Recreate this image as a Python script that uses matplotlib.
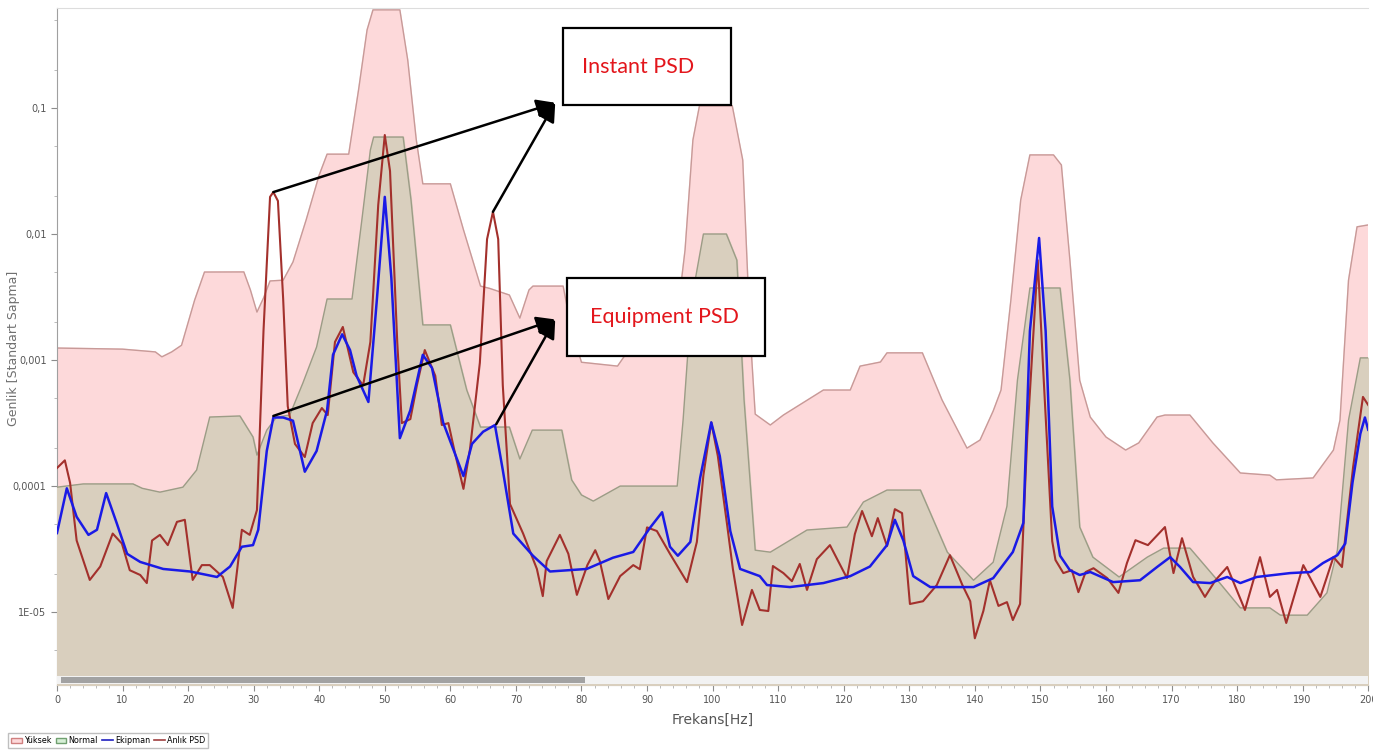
import matplotlib
matplotlib.use("Agg")
import matplotlib.pyplot as plt
from matplotlib.patches import Rectangle, Patch
from matplotlib.lines import Line2D
from matplotlib.ticker import FixedLocator, FixedFormatter, LogLocator, NullFormatter, MultipleLocator

# Yuksek (upper limit band)
yuksek_f = [0, 10, 15, 16, 17.5, 19, 21, 22.5, 28.5, 29.5, 30.5, 31.5, 32.5, 34.5, 36, 38, 40, 41.2,
            44.5, 46, 47.3, 48.2, 52.3, 53.5, 54.8, 55.8, 60, 62, 64.6, 66, 69, 70.6, 72, 72.6, 77.2,
            78.5, 80, 85.5, 87, 94, 95.8, 97, 98, 103, 104.6, 105.7, 106.5, 108.8, 110.8, 116.9, 121,
            122.5, 125.6, 126.6, 132, 135, 138.8, 140.8, 142.8, 144, 145.5, 147, 148.4, 152, 153.2,
            154.5, 156, 157.6, 160, 163, 165, 167.8, 169, 172.8, 176.3, 180.5, 185, 186, 191.6, 194.7,
            195.7, 197, 198.3, 200]
yuksek_v = [1.245e-3, 1.22e-3, 1.16e-3, 1.06e-3, 1.16e-3, 1.31e-3, 2.99e-3, 4.99e-3, 5.0e-3, 3.6e-3,
            2.4e-3, 3.1e-3, 4.24e-3, 4.3e-3, 6.0e-3, 1.29e-2, 2.94e-2, 4.3e-2, 4.3e-2, 0.139, 0.416,
            0.6, 0.6, 0.24, 5.6e-2, 2.5e-2, 2.5e-2, 1.08e-2, 3.86e-3, 3.7e-3, 3.28e-3, 2.15e-3, 3.6e-3,
            3.86e-3, 3.86e-3, 1.73e-3, 9.6e-4, 8.95e-4, 1.16e-3, 1.2e-3, 7.46e-3, 5.57e-2, 0.104, 0.104,
            3.86e-2, 1.73e-3, 3.72e-4, 3.05e-4, 3.66e-4, 5.78e-4, 5.78e-4, 8.95e-4, 9.64e-4, 1.14e-3,
            1.14e-3, 4.82e-4, 2.0e-4, 2.32e-4, 3.94e-4, 5.78e-4, 2.99e-3, 1.86e-2, 4.24e-2, 4.24e-2,
            3.53e-2, 6.2e-3, 6.9e-4, 3.53e-4, 2.45e-4, 1.93e-4, 2.2e-4, 3.53e-4, 3.66e-4, 3.66e-4,
            2.2e-4, 1.27e-4, 1.22e-4, 1.12e-4, 1.16e-4, 1.93e-4, 3.34e-4, 4.3e-3, 1.14e-2, 1.18e-2]

# Normal band
normal_f = [0, 4, 11.6, 13, 15.7, 19.2, 21.3, 23.3, 27.9, 29.9, 30.5, 32, 33.5, 35.5, 37.5, 39.6, 41.2,
            45, 46.5, 47.8, 48.3, 52.8, 54, 55.8, 60, 62.5, 64.6, 69, 70.6, 72.5, 77, 78.5, 80, 81.8,
            85.9, 94.6, 95.5, 96.8, 98.6, 102.1, 103.7, 104.8, 106.5, 108.8, 114.4, 120.5, 123, 126.6,
            131.7, 135.8, 139.8, 142.8, 144.9, 146.5, 148.4, 153, 154.5, 156, 158, 162, 166.3, 168.8,
            172.8, 177, 180.5, 185, 186.6, 190.7, 193.7, 195.3, 197, 198.8, 200]
normal_v = [9.8e-5, 1.04e-4, 1.04e-4, 9.6e-5, 8.95e-5, 9.8e-5, 1.34e-4, 3.53e-4, 3.6e-4, 2.45e-4, 1.76e-4,
            2.78e-4, 3.53e-4, 3.66e-4, 6.56e-4, 1.27e-3, 3.05e-3, 3.05e-3, 1.29e-2, 4.64e-2, 5.88e-2,
            5.88e-2, 1.86e-2, 1.9e-3, 1.9e-3, 5.78e-4, 2.94e-4, 2.94e-4, 1.64e-4, 2.78e-4, 2.78e-4,
            1.12e-4, 8.5e-5, 7.6e-5, 1.0e-4, 1.0e-4, 3.34e-4, 3.0e-3, 1.0e-2, 1.0e-2, 6.2e-3, 4.82e-4,
            3.1e-5, 2.99e-5, 4.48e-5, 4.73e-5, 7.47e-5, 9.3e-5, 9.3e-5, 2.99e-5, 1.79e-5, 2.49e-5,
            6.93e-5, 6.93e-4, 3.73e-3, 3.73e-3, 6.93e-4, 4.73e-5, 2.73e-5, 1.9e-5, 2.73e-5, 3.22e-5,
            3.22e-5, 1.79e-5, 1.08e-5, 1.08e-5, 9.46e-6, 9.46e-6, 1.42e-5, 3.1e-5, 3.34e-4, 1.04e-3, 1.04e-3]

# Ekipman (equipment PSD)
ekipman_f = [0, 1.5, 3, 4.8, 6.1, 7.5, 9.1, 10.7, 12.7, 16.2, 20.3, 24.4, 26.4, 28.2, 29.9, 30.7, 32, 33,
             34.5, 36, 37.8, 39.6, 41.2, 42.1, 43.5, 44.7, 45.7, 47.5, 48.8, 50, 51, 52.3, 53.9, 55.8,
             57.2, 58.9, 62, 63.3, 65, 66.8, 68, 69.6, 72.6, 75.2, 80.8, 84.8, 87.9, 90.5, 92.3, 93.5,
             94.7, 96.6, 98.1, 99.8, 101.1, 102.7, 104.2, 107.2, 108.3, 111.8, 116.9, 121, 124, 126.6,
             127.8, 129.1, 130.6, 133.2, 139.8, 142.8, 145.8, 147.4, 148.4, 149.8, 150.8, 151.8, 153,
             154.5, 156, 157.6, 161.1, 165.2, 167.8, 169.8, 171.3, 173.3, 175.9, 178.5, 180.5, 183,
             188.1, 191.2, 193.1, 195.3, 196.5, 197.6, 198.8, 199.5, 200]
ekipman_v = [4.24e-5, 9.6e-5, 5.7e-5, 4.1e-5, 4.5e-5, 8.8e-5, 5.1e-5, 2.9e-5, 2.5e-5, 2.2e-5, 2.1e-5,
             1.9e-5, 2.3e-5, 3.3e-5, 3.4e-5, 4.5e-5, 1.9e-4, 3.5e-4, 3.5e-4, 3.3e-4, 1.3e-4, 1.9e-4,
             4.0e-4, 1.1e-3, 1.6e-3, 1.2e-3, 7.5e-4, 4.65e-4, 3.05e-3, 1.97e-2, 4.5e-3, 2.4e-4, 4.0e-4,
             1.1e-3, 8.65e-4, 3.2e-4, 1.2e-4, 2.16e-4, 2.7e-4, 3.05e-4, 1.34e-4, 4.2e-5, 2.8e-5, 2.1e-5,
             2.2e-5, 2.7e-5, 3.0e-5, 4.7e-5, 6.2e-5, 3.3e-5, 2.8e-5, 3.6e-5, 1.16e-4, 3.2e-4, 1.73e-4,
             4.4e-5, 2.2e-5, 1.93e-5, 1.64e-5, 1.58e-5, 1.7e-5, 1.93e-5, 2.3e-5, 3.4e-5, 5.4e-5, 3.7e-5,
             1.93e-5, 1.58e-5, 1.58e-5, 1.86e-5, 3.0e-5, 5.1e-5, 1.7e-3, 9.3e-3, 1.7e-3, 6.9e-5, 2.8e-5,
             2.15e-5, 1.97e-5, 2.08e-5, 1.73e-5, 1.79e-5, 2.28e-5, 2.73e-5, 2.28e-5, 1.73e-5, 1.7e-5,
             1.9e-5, 1.7e-5, 1.9e-5, 2.04e-5, 2.08e-5, 2.45e-5, 2.83e-5, 3.5e-5, 1.06e-4, 2.6e-4,
             3.5e-4, 2.8e-4]

# Anlik PSD (instant PSD)
anlik_f = [0, 1.2, 2, 3, 5, 6.6, 8.5, 9.9, 11.1, 12.7, 13.7, 14.5, 15.7, 16.9, 18.3, 19.5, 20.7, 22.1,
           23.3, 25.3, 26.8, 28.2, 29.4, 30.5, 31.5, 32.5, 33, 33.7, 34.5, 35.2, 36.3, 37.8, 39, 40.4,
           41.3, 42.4, 43.6, 45.2, 46.7, 47.8, 49, 50, 50.8, 51.9, 52.6, 53.9, 54.9, 56.1, 57.7, 58.7,
           59.7, 60.7, 62, 63, 64.5, 65.6, 66.5, 67.3, 68, 69.1, 71.1, 73.2, 74.1, 74.7, 76.7, 78, 79.3,
           80.9, 82.1, 82.8, 84.1, 85.9, 87.9, 88.9, 90, 91.5, 93.5, 96.1, 97.6, 98.6, 99.8, 100.8,
           102.2, 103.1, 104.5, 106, 107.2, 108.5, 109.2, 110.8, 112.1, 113.3, 114.4, 115.9, 117.9,
           120.5, 121.7, 122.8, 124.3, 125.2, 126.6, 127.8, 128.9, 130.1, 132.1, 134.2, 136.2, 138.1,
           139.3, 140, 141.3, 142.3, 143.6, 144.9, 145.8, 146.9, 148, 149.6, 150.4, 151.8, 152.3,
           153.5, 154.8, 155.8, 156.9, 158.1, 160.2, 161.9, 163.2, 164.5, 166.4, 169, 170.3, 171.6,
           173.3, 175.1, 176.7, 178.5, 181.2, 183.5, 185, 186.1, 187.5, 190.1, 192.7, 194.7, 196,
           197.7, 199.2, 200]
anlik_v = [1.39e-4, 1.6e-4, 1.06e-4, 3.7e-5, 1.8e-5, 2.3e-5, 4.2e-5, 3.5e-5, 2.15e-5, 1.97e-5, 1.7e-5,
           3.7e-5, 4.1e-5, 3.4e-5, 5.2e-5, 5.4e-5, 1.8e-5, 2.36e-5, 2.36e-5, 1.9e-5, 1.08e-5, 4.5e-5,
           4.1e-5, 6.45e-5, 1.7e-3, 1.97e-2, 2.15e-2, 1.83e-2, 3.05e-3, 4.3e-4, 2.16e-4, 1.7e-4,
           3.16e-4, 4.16e-4, 3.66e-4, 1.39e-3, 1.83e-3, 8.0e-4, 6.3e-4, 1.39e-3, 1.7e-2, 6.1e-2,
           3.16e-2, 1.39e-3, 3.16e-4, 3.4e-4, 6.3e-4, 1.2e-3, 7.5e-4, 3.05e-4, 3.16e-4, 1.83e-4,
           9.5e-5, 1.97e-4, 9.5e-4, 9.1e-3, 1.5e-2, 9.1e-3, 6.3e-4, 7.2e-5, 4.2e-5, 2.2e-5, 1.34e-5,
           2.54e-5, 4.1e-5, 2.9e-5, 1.37e-5, 2.36e-5, 3.1e-5, 2.54e-5, 1.27e-5, 1.93e-5, 2.36e-5,
           2.19e-5, 4.7e-5, 4.4e-5, 2.9e-5, 1.73e-5, 3.6e-5, 1.22e-4, 3.2e-4, 1.73e-4, 5.0e-5, 2.19e-5,
           7.9e-6, 1.5e-5, 1.04e-5, 1.02e-5, 2.32e-5, 2.04e-5, 1.76e-5, 2.41e-5, 1.5e-5, 2.63e-5,
           3.4e-5, 1.86e-5, 4.16e-5, 6.34e-5, 4.0e-5, 5.57e-5, 3.34e-5, 6.56e-5, 6.1e-5, 1.16e-5,
           1.22e-5, 1.64e-5, 2.83e-5, 1.64e-5, 1.22e-5, 6.2e-6, 1.02e-5, 1.79e-5, 1.12e-5, 1.2e-5,
           8.65e-6, 1.16e-5, 2.49e-4, 6.2e-3, 8.95e-4, 3.66e-5, 2.59e-5, 2.04e-5, 2.15e-5, 1.44e-5,
           2.08e-5, 2.23e-5, 1.86e-5, 1.42e-5, 2.45e-5, 3.72e-5, 3.4e-5, 4.73e-5, 2.04e-5, 3.86e-5,
           1.9e-5, 1.32e-5, 1.79e-5, 2.28e-5, 1.04e-5, 2.73e-5, 1.32e-5, 1.5e-5, 8.2e-6, 2.36e-5,
           1.32e-5, 2.73e-5, 2.28e-5, 1.42e-4, 5.1e-4, 4.4e-4]

yticks = [1e-5, 1e-4, 1e-3, 1e-2, 1e-1]
ytick_labels = ["1E-05", "0,0001", "0,001", "0,01", "0,1"]
legend_labels = ["Yüksek", "Normal", "Ekipman", "Anlık PSD"]

fig = plt.figure(figsize=(13.73, 7.54), dpi=100)
ax = fig.add_axes([0.0415, 0.0915, 0.955, 0.898])
ax.set_yscale("log")
ax.set_xlim(0, 200)
ax.set_ylim(2.64e-6, 0.622)

floor = 1e-7
ax.fill_between(yuksek_f, floor, yuksek_v, color="#fdd9da", zorder=1)
ax.plot(yuksek_f, yuksek_v, color="#c79a98", lw=1.0, zorder=2)
ax.fill_between(normal_f, floor, normal_v, color="#d9cfbe", zorder=3)
ax.plot(normal_f, normal_v, color="#9c9c86", lw=1.0, zorder=4)
ax.plot(ekipman_f, ekipman_v, color="#1a1ae6", lw=1.8, zorder=6)
ax.plot(anlik_f, anlik_v, color="#a3302c", lw=1.5, zorder=5)

# scrollbar look
ax.add_patch(Rectangle((0, 0.002), 1.0, 0.011, transform=ax.transAxes, facecolor="#f2f2f2",
                       edgecolor="none", zorder=7))
ax.add_patch(Rectangle((0.003, 0.003), 0.4, 0.009, transform=ax.transAxes, facecolor="#a2a2a2",
                       edgecolor="none", zorder=8))

# annotation boxes
ax.add_patch(Rectangle((77.2, 0.106), 25.6, 0.43 - 0.106, facecolor="white", edgecolor="black",
                       lw=1.6, zorder=10))
ax.text(88.6, 0.213, "Instant PSD", color="#e3161c", fontsize=15.5, family="Lato",
        ha="center", va="center", zorder=11)
ax.add_patch(Rectangle((77.8, 1.08e-3), 30.2, 4.48e-3 - 1.08e-3, facecolor="white", edgecolor="black",
                       lw=1.6, zorder=10))
ax.text(92.6, 2.2e-3, "Equipment PSD", color="#e3161c", fontsize=15.5, family="Lato",
        ha="center", va="center", zorder=11)

arrow = dict(arrowstyle="-|>", mutation_scale=28, lw=1.8, color="black", shrinkA=0, shrinkB=0)
for start, tip in [((33, 0.0215), (76, 0.11)), ((66.5, 0.015), (76, 0.11)),
                   ((33, 3.6e-4), (76, 2.1e-3)), ((67, 3.1e-4), (76, 2.1e-3))]:
    ax.annotate("", xy=tip, xytext=start, arrowprops=arrow, zorder=12)

ax.yaxis.set_major_locator(FixedLocator(yticks))
ax.yaxis.set_major_formatter(FixedFormatter(ytick_labels))
ax.yaxis.set_minor_locator(LogLocator(base=10, subs=[2, 5]))
ax.yaxis.set_minor_formatter(NullFormatter())
ax.xaxis.set_major_locator(MultipleLocator(10))
ax.xaxis.set_minor_locator(MultipleLocator(2))
ax.tick_params(axis="both", which="major", labelsize=7, colors="#8c8c8c", labelcolor="#555555",
               length=4, width=0.8)
ax.tick_params(axis="both", which="minor", colors="#b0b0b0", length=2.5, width=0.6)
ax.tick_params(axis="x", pad=3)

ax.spines["right"].set_visible(False)
ax.spines["top"].set_color("#dddddd")
ax.spines["left"].set_color("#a0a0a0")
ax.spines["bottom"].set_color("#a0a0a0")

ax.set_xlabel("Frekans[Hz]", fontsize=10, color="#555555", labelpad=6)
fig.text(14 / 1373, 1 - 348 / 754, "Genlik [Standart Sapma]", rotation=90, fontsize=9,
         color="#707070", ha="center", va="center")

handles = [Patch(facecolor="#fdd9da", edgecolor="#d08080"),
           Patch(facecolor="#d6efd6", edgecolor="#70a070"),
           Line2D([], [], color="#2020c0", lw=1.2),
           Line2D([], [], color="#a04040", lw=1.2)]
fig.legend(handles, legend_labels, loc="lower left", bbox_to_anchor=(0.003, 0.002), ncol=4,
           fontsize=5.8, frameon=True, fancybox=False, edgecolor="#b0b0b0", handlelength=1.3,
           handletextpad=0.3, columnspacing=0.5, borderpad=0.4)

fig.savefig("out.png", dpi=100)
